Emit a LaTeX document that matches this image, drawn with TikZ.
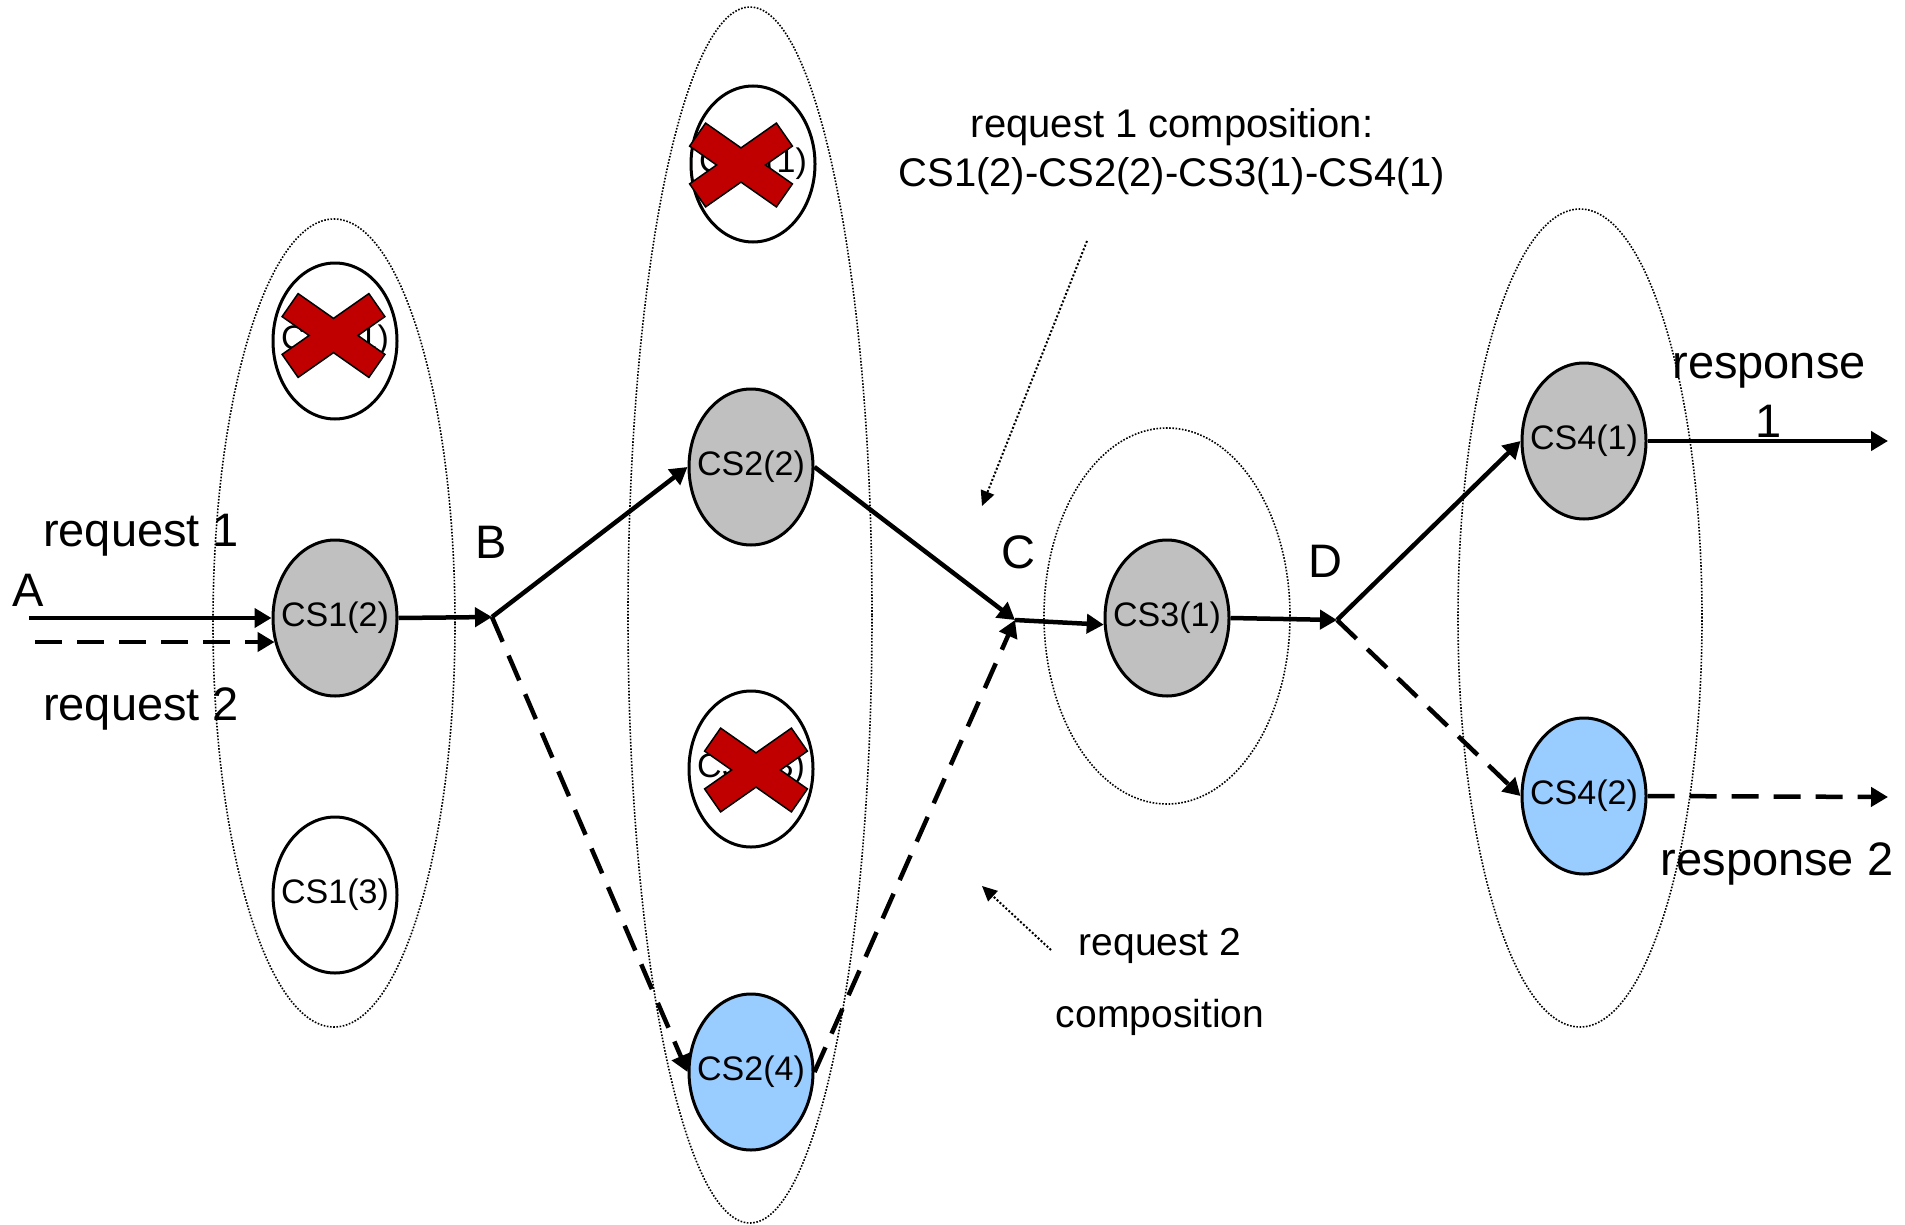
\documentclass[tikz,border=0pt]{standalone}
\usepackage{fontspec}
\setmainfont{Liberation Sans}
\usetikzlibrary{arrows.meta,shapes.geometric}

\definecolor{busygray}{HTML}{C0C0C0}
\definecolor{spareblue}{HTML}{99CCFF}
\definecolor{xred}{HTML}{C00000}

\tikzset{
  redx/.pic={
    \draw[fill=xred, line width=1.5pt, line join=miter]
      (24.4,0) -- (51.4,18.9) -- (35.4,41.9) -- (0,17.1) -- (-35.4,41.9)
      -- (-51.4,18.9) -- (-24.4,0) -- (-51.4,-18.9) -- (-35.4,-41.9)
      -- (0,-17.1) -- (35.4,-41.9) -- (51.4,-18.9) -- cycle;
  }
}

\begin{document}
\begin{tikzpicture}[x=1pt, y=-1pt,
  svc/.style={ellipse, draw, line width=3pt, minimum width=124pt,
    minimum height=156pt, inner sep=0pt, font=\fontsize{34}{40}\selectfont},
  busy/.style={svc, fill=busygray},
  spare/.style={svc, fill=spareblue},
  down/.style={svc, fill=white},
  group/.style={ellipse, draw, line width=1.6pt,
    dash pattern=on 1.6pt off 1.6pt, inner sep=0pt},
  flow/.style={line width=4.5pt, -{Triangle[length=17pt,width=19pt]}},
  alt/.style={flow, dash pattern=on 27pt off 15pt},
  note/.style={line width=2pt, dash pattern=on 2pt off 2pt,
    -{Triangle[length=15pt,width=14pt]}},
  lbl/.style={font=\fontsize{47}{59}\selectfont, inner sep=0pt},
  cmt/.style={inner sep=0pt, align=center},
]
\useasboundingbox (0,0) rectangle (1905,1225);
\fill[white] (0,0) rectangle (1905,1225);

% candidate groups
\node[group, minimum width=242pt, minimum height=808pt] (g1) at (334,623) {};
\node[group, minimum width=244pt, minimum height=1216pt] (g2) at (750,615) {};
\node[group, minimum width=246pt, minimum height=376pt] (g3) at (1167,616) {};
\node[group, minimum width=244pt, minimum height=818pt] (g4) at (1580,618) {};

% concrete services
\node[down]  (cs11) at (335,341)  {\makebox[0pt]{CS1(1)}};
\node[busy]  (cs12) at (335,618)  {\makebox[0pt]{CS1(2)}};
\node[down]  (cs13) at (335,895)  {\makebox[0pt]{CS1(3)}};
\node[down]  (cs21) at (753,164)  {\makebox[0pt]{CS2(1)}};
\node[busy]  (cs22) at (751,467)  {\makebox[0pt]{CS2(2)}};
\node[down]  (cs23) at (751,769)  {\makebox[0pt]{CS2(3)}};
\node[spare] (cs24) at (751,1072) {\makebox[0pt]{CS2(4)}};
\node[busy]  (cs31) at (1167,618) {\makebox[0pt]{CS3(1)}};
\node[busy]  (cs41) at (1584,441) {\makebox[0pt]{CS4(1)}};
\node[spare] (cs42) at (1584,796) {\makebox[0pt]{CS4(2)}};

% failed services
\pic at ([shift={(-1.5,-5.5)}]cs11.center) {redx};
\pic at ([shift={(-12,1)}]cs21.center) {redx};
\pic at ([shift={(5,1)}]cs23.center) {redx};

% junction points and free ends
\coordinate (A)  at (29,618);
\coordinate (A2) at (35,642);
\coordinate (B)  at (492,617);
\coordinate (C)  at (1015,620);
\coordinate (D)  at (1337,620);
\coordinate (R1) at (1888,441);
\coordinate (R2) at (1888,797);
\coordinate (n1s) at (1087,241);
\coordinate (n1e) at (982,506);
\coordinate (n2s) at (1051,950);
\coordinate (n2e) at (982,886);

% request 1 path
\draw[flow] (A) -- (cs12.west);
\draw[flow] (cs12.east) -- (B);
\draw[flow] (B) -- (cs22.west);
\draw[flow] (cs22.east) -- (C);
\draw[flow] (C) -- (cs31.186);
\draw[flow] (cs31.east) -- (D);
\draw[flow] (D) -- (cs41.west);
\draw[flow] (cs41.east) -- (R1);

% request 2 path
\draw[alt] (A2) -- (A2 -| cs12.202);
\draw[alt] (B) -- (cs24.west);
\draw[alt] (cs24.east) -- (C);
\draw[alt] (D) -- (cs42.west);
\draw[alt] (cs42.east) -- (R2);

% composition pointers
\draw[note] (n1s) -- (n1e);
\draw[note] (n2s) -- (n2e);

% labels (multi-line nodes sit on the baseline of their last line)
\node[lbl, anchor=base] (lA) at (28,606) {A};
\node[lbl, anchor=base west] (lr1) at (43,546) {request 1};
\node[lbl, anchor=base west] (lr2) at (43,720) {request 2};
\node[lbl, anchor=base] (lB) at (491,558) {B};
\node[lbl, anchor=base] (lC) at (1018,568) {C};
\node[lbl, anchor=base] (lD) at (1325,577) {D};
\node[lbl, anchor=base, align=center] (lresp1) at (1769,437) {response\\1};
\node[lbl, anchor=base] (lresp2) at (1777,875) {response 2};
\node[cmt, anchor=base, font=\fontsize{40}{49}\selectfont] (comp1) at (1172,186)
  {request 1 composition:\\CS1(2)-CS2(2)-CS3(1)-CS4(1)};
\node[cmt, anchor=base, font=\fontsize{39}{72}\selectfont] (comp2) at (1160,1027)
  {request 2\\composition};
\end{tikzpicture}
\end{document}
